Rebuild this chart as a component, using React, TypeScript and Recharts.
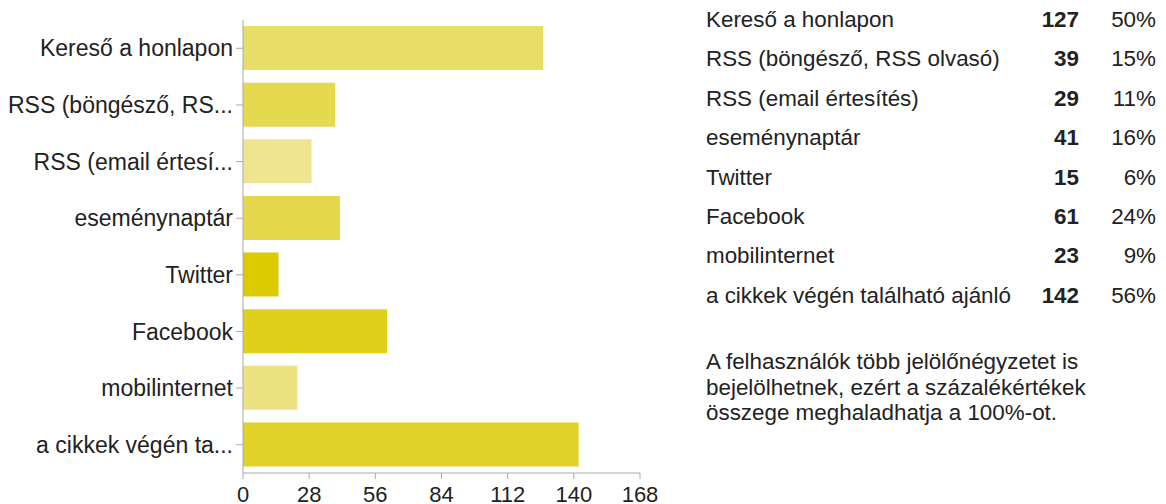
import { BarChart, Bar, XAxis, YAxis, Cell } from "recharts"

const categories = [
  "Kereső a honlapon",
  "RSS (böngésző, RSS olvasó)",
  "RSS (email értesítés)",
  "eseménynaptár",
  "Twitter",
  "Facebook",
  "mobilinternet",
  "a cikkek végén található ajánló",
]
const counts = [127, 39, 29, 41, 15, 61, 23, 142]
const percents = [50, 15, 11, 16, 6, 24, 9, 56]
const barColors = ["#e8dd66", "#e5d94f", "#efe48f", "#e5d74a", "#dccb00", "#e0d01c", "#ede282", "#e0d228"]
const xTicks = [0, 28, 56, 84, 112, 140, 168]
const note = [
  "A felhasználók több jelölőnégyzetet is",
  "bejelölhetnek, ezért a százalékértékek",
  "összege meghaladhatja a 100%-ot.",
]

const data = categories.map((name, i) => ({ name, count: counts[i] }))

const font = "'Liberation Sans', Arial, sans-serif"

// google-forms style cut: 17 chars, then "..."
function shorten(s: string) {
  return s.length > 17 ? s.slice(0, 17) + "..." : s
}

export default function App() {
  return (
    <div
      style={{
        position: "absolute",
        left: 0,
        top: 0,
        width: 1166,
        height: 504,
        overflow: "hidden",
        background: "#fff",
        fontFamily: font,
        color: "#222",
      }}
    >
      <div style={{ position: "absolute", left: 0, top: 0 }}>
        <BarChart
          width={660}
          height={504}
          data={data}
          layout="vertical"
          margin={{ top: 20, right: 20, bottom: 0, left: 0 }}
        >
          <XAxis
            type="number"
            domain={[0, 168]}
            ticks={xTicks}
            height={31}
            tickSize={6}
            tickMargin={7}
            stroke="#aaa"
            tick={{ fill: "#222", fontSize: 22, fontFamily: font }}
            interval={0}
          />
          <YAxis
            type="category"
            dataKey="name"
            width={243}
            tickSize={7}
            tickMargin={3}
            stroke="#aaa"
            interval={0}
            tickFormatter={shorten}
            tick={{ fill: "#222", fontSize: 23, fontFamily: font }}
          />
          <Bar dataKey="count" barSize={44} isAnimationActive={false}>
            {data.map((d, i) => (
              <Cell key={d.name} fill={barColors[i]} />
            ))}
          </Bar>
        </BarChart>
      </div>

      <div style={{ position: "absolute", left: 706, top: 0, width: 452, fontSize: 22.4 }}>
        {categories.map((c, i) => (
          <div key={c} style={{ position: "relative", height: 39.4, lineHeight: "39.4px", whiteSpace: "nowrap" }}>
            <span>{c}</span>
            <span style={{ position: "absolute", right: 79, fontWeight: "bold" }}>{counts[i]}</span>
            <span style={{ position: "absolute", right: 2 }}>{percents[i]}%</span>
          </div>
        ))}
        <div style={{ marginTop: 34, lineHeight: "25.5px" }}>
          {note.map((l) => (
            <div key={l}>{l}</div>
          ))}
        </div>
      </div>
    </div>
  )
}
